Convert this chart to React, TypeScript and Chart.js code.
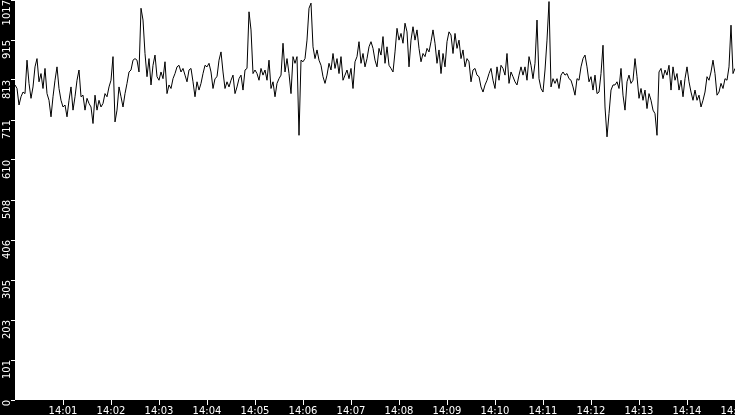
import { useEffect, useRef } from "react";
import { Chart, registerables } from "chart.js";

Chart.register(...registerables);

// Time axis: seconds after 14:00:00, one sample every 2.5 s
const START_HOUR = 14;
const SAMPLE_SECONDS = 2.5;
const X_MIN = 0;
const X_MAX = 900;
const X_TICKS = [60, 120, 180, 240, 300, 360, 420, 480, 540, 600, 660, 720, 780, 840, 900];
const Y_MIN = 0;
const Y_MAX = 1017;
const Y_TICKS = [0, 101.7, 203.4, 305.1, 406.8, 508.5, 610.2, 711.9, 813.6, 915.3, 1017];

// 14:00:00 - 14:02:30
const valuesA = [
  801, 792, 750, 771, 783, 779, 864, 805, 767, 796,
  847, 868, 809, 830, 792, 843, 779, 762, 720, 771,
  813, 847, 792, 762, 745, 750, 720, 762, 796, 737,
  771, 813, 839, 771, 775, 737, 767, 754, 745, 703,
  775, 737, 762, 745, 754, 779, 771, 796, 813, 873,
  707, 737, 796, 771, 745, 779, 805, 834, 839, 864,
];
// 14:02:30 - 14:05:00
const valuesB = [
  868, 864, 834, 996, 966, 881, 822, 868, 801, 851,
  877, 822, 813, 834, 817, 860, 779, 801, 792, 817,
  830, 847, 851, 834, 843, 826, 809, 839, 843, 809,
  771, 809, 788, 805, 830, 851, 847, 856, 834, 792,
  817, 822, 864, 885, 834, 792, 809, 796, 813, 826,
  779, 796, 817, 826, 788, 839, 843, 987, 941, 830,
];
// 14:05:00 - 14:07:30
const valuesC = [
  839, 830, 813, 843, 826, 839, 813, 864, 792, 809,
  771, 805, 817, 826, 907, 834, 868, 830, 779, 873,
  856, 873, 673, 864, 860, 868, 915, 996, 1009, 898,
  868, 890, 864, 851, 822, 805, 826, 856, 839, 881,
  843, 868, 830, 873, 813, 826, 839, 817, 843, 792,
  860, 873, 911, 856, 881, 847, 868, 898, 911, 894,
];
// 14:07:30 - 14:10:00
const valuesD = [
  864, 847, 894, 877, 924, 856, 898, 851, 843, 834,
  885, 945, 915, 932, 907, 958, 936, 847, 915, 949,
  915, 941, 894, 860, 881, 873, 894, 885, 911, 941,
  907, 856, 890, 830, 881, 847, 911, 936, 928, 881,
  932, 894, 915, 868, 890, 847, 868, 860, 809, 839,
  843, 826, 822, 796, 783, 801, 813, 830, 843, 813,
];
// 14:10:00 - 14:12:30
const valuesE = [
  792, 847, 813, 851, 843, 826, 881, 805, 834, 822,
  809, 801, 826, 847, 826, 847, 813, 873, 851, 817,
  856, 966, 817, 792, 783, 839, 915, 1013, 796, 817,
  805, 817, 792, 826, 834, 826, 830, 817, 813, 796,
  775, 817, 813, 847, 868, 877, 847, 809, 822, 788,
  826, 779, 783, 830, 902, 745, 669, 728, 788, 801,
];
// 14:12:30 - 14:15:00
const valuesF = [
  801, 809, 792, 843, 775, 737, 809, 826, 805, 813,
  868, 822, 767, 792, 762, 788, 741, 779, 762, 737,
  728, 673, 834, 843, 817, 839, 826, 851, 788, 847,
  813, 830, 788, 813, 771, 817, 847, 809, 783, 762,
  788, 762, 775, 745, 762, 783, 822, 813, 834, 864,
  830, 775, 783, 805, 792, 817, 813, 847, 953, 830,
  843,
];

const FONT = { family: "'DejaVu Sans', sans-serif", size: 10 };

function formatTime(seconds: number): string {
  const m = Math.round(seconds / 60);
  const h = START_HOUR + Math.floor(m / 60);
  return `${h}:${String(m % 60).padStart(2, "0")}`;
}

export default function App() {
  const canvasRef = useRef<HTMLCanvasElement>(null);

  useEffect(() => {
    const values = [...valuesA, ...valuesB, ...valuesC, ...valuesD, ...valuesE, ...valuesF];
    const points = values.map((v, i) => ({ x: i * SAMPLE_SECONDS, y: v }));

    const background = {
      id: "background",
      beforeDraw(chart: any) {
        const { ctx, chartArea, width, height } = chart;
        ctx.save();
        ctx.fillStyle = "#000";
        ctx.fillRect(0, 0, width, height);
        ctx.fillStyle = "#fff";
        ctx.fillRect(chartArea.left, chartArea.top, chartArea.right - chartArea.left, chartArea.bottom - chartArea.top);
        ctx.restore();
      },
    };

    const chart = new Chart(canvasRef.current as HTMLCanvasElement, {
      type: "line",
      data: {
        datasets: [
          {
            data: points,
            borderColor: "#000",
            borderWidth: 1,
            pointRadius: 0,
            tension: 0,
            fill: false,
          },
        ],
      },
      options: {
        animation: false,
        responsive: false,
        devicePixelRatio: 1,
        layout: { padding: 0 },
        plugins: { legend: { display: false }, tooltip: { enabled: false } },
        scales: {
          x: {
            type: "linear",
            min: X_MIN,
            max: X_MAX,
            afterBuildTicks: (scale: any) => {
              scale.ticks = X_TICKS.map((v) => ({ value: v }));
            },
            afterFit: (scale: any) => {
              scale.height = 15;
              scale.paddingLeft = 0;
              scale.paddingRight = 0;
            },
            grid: { drawOnChartArea: false, drawTicks: true, tickLength: 5, color: "#fff" },
            border: { display: false },
            ticks: {
              color: "#fff",
              font: FONT,
              padding: 0,
              minRotation: 0,
              maxRotation: 0,
              autoSkip: false,
              callback: (v: any) => formatTime(Number(v)),
            },
          },
          y: {
            type: "linear",
            min: Y_MIN,
            max: Y_MAX,
            afterBuildTicks: (scale: any) => {
              scale.ticks = Y_TICKS.map((v) => ({ value: v }));
            },
            afterFit: (scale: any) => {
              scale.width = 15;
              scale.paddingTop = 0;
              scale.paddingBottom = 0;
            },
            grid: { drawOnChartArea: false, drawTicks: true, tickLength: 4, color: "#fff" },
            border: { display: false },
            ticks: {
              color: "#fff",
              font: FONT,
              padding: 4,
              minRotation: 90,
              maxRotation: 90,
              autoSkip: false,
              callback: (v: any) => String(Math.floor(Number(v) + 1e-6)),
            },
          },
        },
      },
      plugins: [background],
    });

    return () => chart.destroy();
  }, []);

  return (
    <div style={{ position: "fixed", left: 0, top: 0, width: 735, height: 415 }}>
      <canvas ref={canvasRef} width={735} height={415} style={{ display: "block" }} />
    </div>
  );
}
